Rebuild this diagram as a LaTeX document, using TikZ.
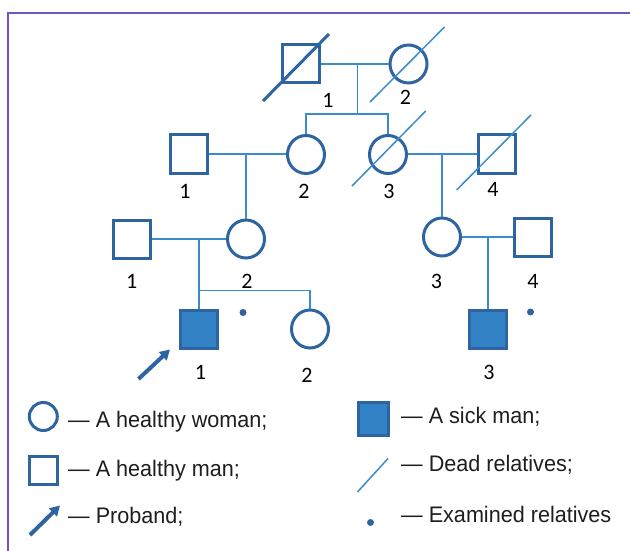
\documentclass[tikz,border=0pt]{standalone}
\usepackage{fontspec}
\setmainfont{Carlito}
\newfontfamily\legfont{Liberation Sans}[FakeStretch=0.96]
\usetikzlibrary{shapes.geometric,arrows.meta}
\definecolor{outl}{RGB}{46,100,160}
\definecolor{conn}{RGB}{58,140,205}
\definecolor{sickfill}{RGB}{52,130,198}
\definecolor{framec}{RGB}{115,85,190}
\definecolor{txt}{RGB}{30,30,30}
\tikzset{
  male/.style={draw=outl,line width=3pt,rectangle,minimum width=37pt,minimum height=38pt,inner sep=0pt},
  female/.style={draw=outl,line width=3pt,ellipse,minimum width=37pt,minimum height=38pt,inner sep=0pt},
  sick/.style={male,fill=sickfill},
  link/.style={draw=conn,line width=1.7pt},
  deadline/.style={draw=conn,line width=1.5pt},
  deaddark/.style={draw=outl,line width=3pt},
  num/.style={font=\fontsize{22}{24}\selectfont,text=black,inner sep=0pt},
  leg/.style={font=\legfont\fontsize{22.5}{24}\selectfont,text=txt,inner sep=0pt,anchor=base west},
  exdot/.style={circle,fill=outl,inner sep=0pt,minimum size=7pt},
  proband/.style={draw=outl,line width=4pt,-{Triangle[length=10pt,width=11pt]}},
  framel/.style={draw=framec,line width=2.5pt}
}
\begin{document}
\begin{tikzpicture}[x=1pt,y=-1pt]
\useasboundingbox (0,0) rectangle (630,551);
\fill[white] (0,0) rectangle (630,551);
% frame
\coordinate (fa) at (8,551);
\coordinate (fb) at (8,13);
\coordinate (fc) at (631,13);
\draw[framel] (fa) -- (fb) -- (fc);

% Generation I
\node[male] (i1) at (300.5,64) {};
\node[female] (i2) at (408.5,64) {};
\node[num] (li1) at (328,100) {1};
\node[num] (li2) at (405.5,97) {2};
% Generation II
\node[male] (ii1) at (189,154) {};
\node[female] (ii2) at (306,154.5) {};
\node[female] (ii3) at (388,154.5) {};
\node[male] (ii4) at (496.5,154) {};
\node[num] (lii1) at (185,191.5) {1};
\node[num] (lii2) at (304,191.5) {2};
\node[num] (lii3) at (389,191.5) {3};
\node[num] (lii4) at (493,189) {4};
% Generation III
\node[male] (iii1) at (131.7,239) {};
\node[female] (iii2) at (246,239) {};
\node[female] (iii3) at (442,237) {};
\node[male] (iii4) at (533,237) {};
\node[num] (liii1) at (131.7,281.5) {1};
\node[num] (liii2) at (247,281) {2};
\node[num] (liii3) at (436.5,281.5) {3};
\node[num] (liii4) at (533,281.5) {4};
% Generation IV
\node[sick] (iv1) at (199,329.5) {};
\node[female] (iv2) at (310,329) {};
\node[sick] (iv3) at (488,329) {};
\node[num] (liv1) at (200.5,372.5) {1};
\node[num] (liv2) at (307,375) {2};
\node[num] (liv3) at (489,372) {3};
\node[exdot] (d1) at (243,312.5) {};
\node[exdot] (d2) at (530.5,312) {};

% connectors gen I -> II
\coordinate (m1) at (357.5,64);
\coordinate (s1) at (357.5,114);
\coordinate (s1l) at (306,114);
\coordinate (s1r) at (388,114);
\draw[link] (i1.east) -- (i2.west);
\draw[link] (m1) -- (s1);
\draw[link] (ii2.north) -- (s1l) -- (s1r) -- (ii3.north);
% gen II -> III
\coordinate (m2) at (246,154);
\coordinate (m3) at (442,154);
\draw[link] (ii1.east) -- (ii2.west |- ii1.east);
\draw[link] (m2) -- (iii2.north);
\draw[link] (ii3.east |- ii4.west) -- (ii4.west);
\draw[link] (m3) -- (iii3.north);
% gen III -> IV
\coordinate (m4) at (199,239);
\coordinate (s4) at (199,290.5);
\coordinate (s4r) at (310,290.5);
\draw[link] (iii1.east) -- (iii2.west);
\draw[link] (m4) -- (iv1.north);
\draw[link] (s4) -- (s4r) -- (iv2.north);
\coordinate (m5) at (488,237);
\draw[link] (iii3.east) -- (iii4.west);
\draw[link] (m5) -- (iv3.north);

% dead marks
\coordinate (da1) at (263,101);
\coordinate (db1) at (329,34);
\draw[deaddark] (da1) -- (db1);
\coordinate (da2) at (370,102);
\coordinate (db2) at (444.5,27);
\draw[deadline] (da2) -- (db2);
\coordinate (da3) at (352,186);
\coordinate (db3) at (425.7,111);
\draw[deadline] (da3) -- (db3);
\coordinate (da4) at (456.6,190);
\coordinate (db4) at (531,115);
\draw[deadline] (da4) -- (db4);

% proband arrow
\coordinate (pa) at (138.5,379);
\coordinate (pb) at (170,349.5);
\draw[proband] (pa) -- (pb);

% legend
\node[female,minimum width=28pt,minimum height=28pt] (lg1) at (43.3,416.5) {};
\node[male,minimum width=28pt,minimum height=28pt] (lg2) at (43.3,470) {};
\coordinate (lga) at (30,535);
\coordinate (lgb) at (60,505.5);
\draw[proband] (lga) -- (lgb);
\node[sick,minimum width=30pt,minimum height=33pt] (lg4) at (373,418.5) {};
\coordinate (lgc) at (357.5,492);
\coordinate (lgd) at (388,458.5);
\draw[deadline] (lgc) -- (lgd);
\node[exdot] (lg6) at (370.5,522.5) {};

\node[leg] (t1) at (68,427) {— A healthy woman;};
\node[leg] (t2) at (68,476) {— A healthy man;};
\node[leg] (t3) at (68,523) {— Proband;};
\node[leg] (t4) at (401,423) {— A sick man;};
\node[leg] (t5) at (401,471) {— Dead relatives;};
\node[leg] (t6) at (401,522) {— Examined relatives};
\end{tikzpicture}
\end{document}
